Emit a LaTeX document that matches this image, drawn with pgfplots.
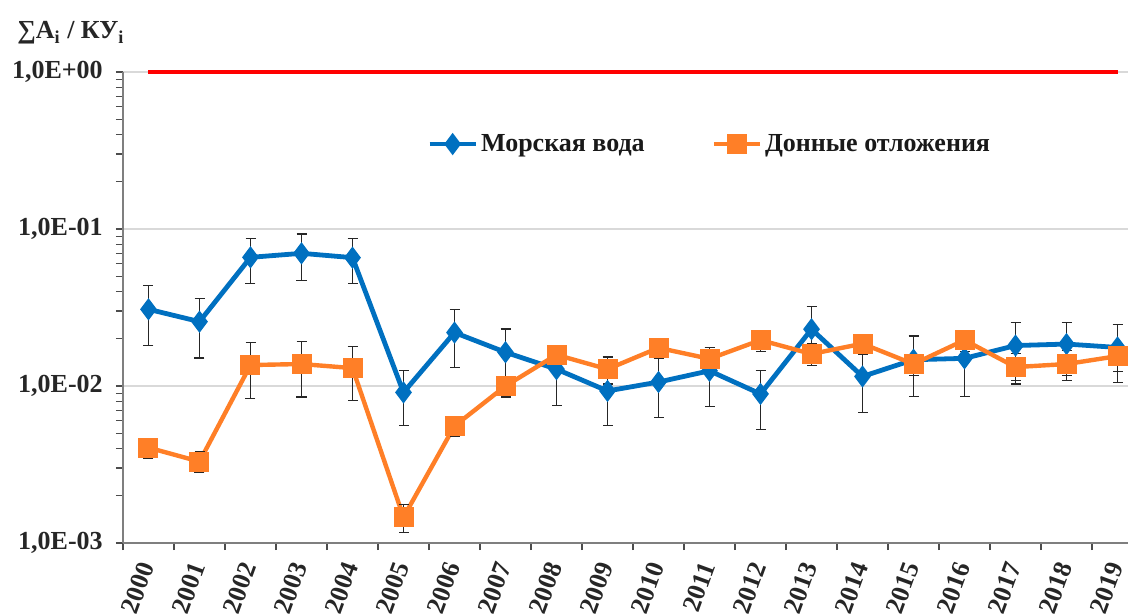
\documentclass[border=0pt]{standalone}
\usepackage{fontspec}
\setmainfont{Liberation Serif}
\usepackage{pgfplots}
\usepackage{pgfplotstable}
\pgfplotsset{compat=1.18}
\definecolor{sea}{HTML}{0070C0}
\definecolor{sed}{HTML}{FF7F27}
\definecolor{axgray}{HTML}{7F7F7F}

\pgfplotstableread{
x y e
0 0.0308 0.0127
1 0.0257 0.0106
2 0.0660 0.0210
3 0.0700 0.0229
4 0.0657 0.0208
5 0.0091 0.0035
6 0.0219 0.0088
7 0.0164 0.0067
8 0.0128 0.0053
9 0.0093 0.0037
10 0.0106 0.0043
11 0.0125 0.0051
12 0.0089 0.0036
13 0.0230 0.0090
14 0.0115 0.0047
15 0.0147 0.0061
16 0.0150 0.0064
17 0.0181 0.0073
18 0.0185 0.0069
19 0.0176 0.0071
}\seawater

\pgfplotstableread{
x y e
0 0.00405 0.0006
1 0.00330 0.0005
2 0.0136 0.0053
3 0.0138 0.0053
4 0.0130 0.0049
5 0.00146 0.0003
6 0.00556 0.0008
7 0.0100 0.0015
8 0.0158 0.0023
9 0.0128 0.0025
10 0.0175 0.0025
11 0.0149 0.0027
12 0.0196 0.0030
13 0.0160 0.0025
14 0.0186 0.0026
15 0.0138 0.0021
16 0.0196 0.0030
17 0.0132 0.0029
18 0.0138 0.0030
19 0.0155 0.0032
}\sediment

\begin{document}
\begin{tikzpicture}
\begin{axis}[
  at={(0,0)}, anchor=south west,
  scale only axis, width=510pt, height=235.5pt,
  xmin=-0.5, xmax=19.5, ymin=1e-3, ymax=1, ymode=log,
  clip=false,
  axis x line*=bottom, axis y line*=left,
  axis line style={axgray, line width=0.8pt},
  tick align=outside,
  major tick length=3.6pt, minor tick length=3.6pt,
  tick style={black!70, line width=0.6pt},
  xtick={-0.5,0.5,...,19.5},
  x tick label as interval,
  xticklabels={2000,2001,2002,2003,2004,2005,2006,2007,2008,2009,2010,2011,2012,2013,2014,2015,2016,2017,2018,2019},
  xticklabel style={xshift=-0.5pt, yshift=-5.5pt, rotate=70, anchor=east, font=\fontsize{13}{15}\selectfont\bfseries, text=black!85, inner sep=1pt},
  ytick={1e-3,1e-2,1e-1,1},
  yticklabels={{1,0E-03},{1,0E-02},{1,0E-01},{1,0E+00}},
  minor ytick={2e-3,3e-3,4e-3,5e-3,6e-3,7e-3,8e-3,9e-3,2e-2,3e-2,4e-2,5e-2,6e-2,7e-2,8e-2,9e-2,2e-1,3e-1,4e-1,5e-1,6e-1,7e-1,8e-1,9e-1},
  yticklabel style={font=\fontsize{13}{15}\selectfont\bfseries, text=black!85, xshift=-3pt},
  ymajorgrids, major grid style={black!15, line width=0.6pt},
  legend style={at={(0.292,0.847)}, anchor=west, draw=none, fill=none,
    font=\fontsize{13}{15}\selectfont\bfseries, text=black!90,
    nodes={inner sep=1.5pt},
    /tikz/every even column/.append style={column sep=32pt}},
  legend columns=2,
  legend image code/.code={\draw[mark repeat=2,mark phase=2,#1] plot coordinates {(0pt,0pt) (11.5pt,0pt) (23pt,0pt)};},
]
\addplot[sea, line width=2.4pt, mark=diamond*, mark size=3.6pt, mark options={solid},
  error bars/.cd, y dir=both, y explicit,
  error bar style={black!85, line width=0.6pt},
  error mark options={black!85, rotate=90, mark size=2.5pt, line width=0.6pt}]
  table[x=x, y=y, y error=e] {\seawater};
\addlegendentry{Морская вода}
\addplot[sed, line width=2.2pt, mark=square*, mark size=3.9pt, mark options={solid},
  error bars/.cd, y dir=both, y explicit,
  error bar style={black!85, line width=0.6pt},
  error mark options={black!85, rotate=90, mark size=2.5pt, line width=0.6pt}]
  table[x=x, y=y, y error=e] {\sediment};
\addlegendentry{Донные отложения}
\addplot[red, line width=2pt, forget plot] coordinates {(0,1) (19,1)};
\end{axis}
\node[anchor=base west, font=\fontsize{13}{15}\selectfont\bfseries, text=black!85, inner sep=0pt] at (-53pt,252pt) {∑A\textsubscript{i} / КУ\textsubscript{i}};
\pgfresetboundingbox
\path[use as bounding box] (-61.5pt,-36pt) rectangle (502.5pt,271.5pt);
\end{tikzpicture}
\end{document}
